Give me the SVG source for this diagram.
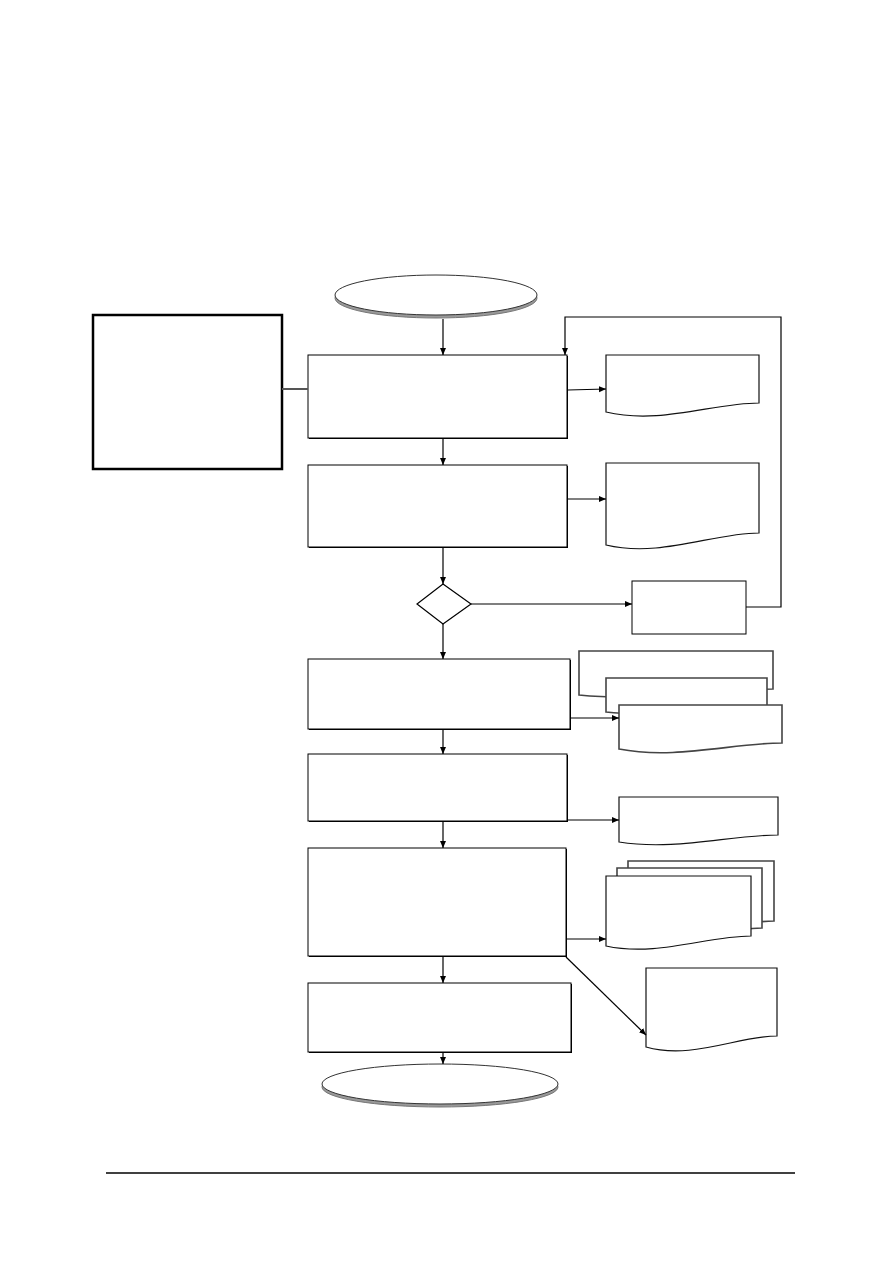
<svg xmlns="http://www.w3.org/2000/svg" width="893" height="1263" viewBox="0 0 893 1263">
<style>
.proc{fill:#fff;stroke:#000;stroke-width:1}
.shadow{fill:#000;stroke:none}
.doc{fill:#fff;stroke:#111;stroke-width:1.2}
.stk{fill:#fff;stroke:#444;stroke-width:1.6}
.term{fill:#fff;stroke:#333;stroke-width:1}
.termsh{fill:#999;stroke:#777;stroke-width:1}
.conn{fill:none;stroke:#000;stroke-width:1.2}
</style>
<defs>
<marker id="ah" markerWidth="8" markerHeight="8" refX="7" refY="4" orient="auto" markerUnits="userSpaceOnUse">
<path d="M0,1 L7,4 L0,7 Z" fill="#000"/>
</marker>
</defs>
<rect width="893" height="1263" fill="#fff"/>

<g id="start">
<ellipse class="termsh" cx="436" cy="298" rx="101" ry="20"/>
<ellipse class="term" cx="436" cy="295" rx="101" ry="20"/>
</g>

<g id="note">
<rect x="93" y="315" width="189" height="154" fill="#fff" stroke="#000" stroke-width="2.5"/>
</g>

<g id="p1">
<rect class="shadow" x="309" y="356" width="259" height="83"/>
<rect class="proc" x="308" y="355" width="259" height="83"/>
</g>
<g id="d1">
<path class="doc" d="M606,355 H759 V403 C713,403 660,425 606,412 Z"/>
</g>

<g id="p2">
<rect class="shadow" x="309" y="466" width="259" height="82"/>
<rect class="proc" x="308" y="465" width="259" height="82"/>
</g>
<g id="d2">
<path class="doc" d="M606,463 H759 V533 C713,533 660,558 606,545 Z"/>
</g>

<g id="decision">
<path d="M443,584 L471,604 L443,624 L417,604 Z" fill="#fff" stroke="#000" stroke-width="1.2"/>
</g>
<g id="p-loop">
<rect x="632" y="581" width="114" height="53" fill="#fff" stroke="#000" stroke-width="1"/>
</g>

<g id="p3">
<rect class="shadow" x="309" y="660" width="262" height="70"/>
<rect class="proc" x="308" y="659" width="262" height="70"/>
</g>
<g id="d3">
<path class="stk" d="M579,651 H773 V689 C715,689 650,702 579,695 Z"/>
<path class="stk" d="M606,678 H767 V706 C720,706 660,718 606,712 Z"/>
<path class="stk" d="M619,705 H782 V743 C733,743 675,760 619,749 Z"/>
</g>

<g id="p4">
<rect class="shadow" x="309" y="755" width="259" height="67"/>
<rect class="proc" x="308" y="754" width="259" height="67"/>
</g>
<g id="d4">
<path class="doc" d="M619,797 H778 V835 C730,835 675,851 619,842 Z"/>
</g>

<g id="p5">
<rect class="shadow" x="309" y="849" width="258" height="108"/>
<rect class="proc" x="308" y="848" width="258" height="108"/>
</g>
<g id="d5">
<path class="stk" d="M628,861 H774 V921 C730,921 680,942 628,931 Z"/>
<path class="stk" d="M617,868 H762 V928 C718,928 668,949 617,938 Z"/>
<path class="doc" d="M606,876 H751 V936 C707,936 657,957 606,946 Z"/>
</g>

<g id="d6">
<path class="doc" d="M646,968 H777 V1036 C738,1036 692,1060 646,1047 Z"/>
</g>

<g id="p6">
<rect class="shadow" x="309" y="984" width="263" height="69"/>
<rect class="proc" x="308" y="983" width="263" height="69"/>
</g>

<g id="end">
<ellipse class="termsh" cx="440" cy="1087" rx="118" ry="20"/>
<ellipse class="term" cx="440" cy="1084" rx="118" ry="20"/>
</g>

<g id="connectors">
<line x1="282" y1="389" x2="308" y2="389" stroke="#555" stroke-width="2"/>
<line class="conn" x1="443" y1="319" x2="443" y2="355" marker-end="url(#ah)"/>
<line class="conn" x1="443" y1="439" x2="443" y2="465" marker-end="url(#ah)"/>
<line class="conn" x1="443" y1="548" x2="443" y2="584" marker-end="url(#ah)"/>
<line class="conn" x1="443" y1="624" x2="443" y2="659" marker-end="url(#ah)"/>
<line class="conn" x1="443" y1="730" x2="443" y2="754" marker-end="url(#ah)"/>
<line class="conn" x1="443" y1="822" x2="443" y2="848" marker-end="url(#ah)"/>
<line class="conn" x1="443" y1="957" x2="443" y2="983" marker-end="url(#ah)"/>
<line class="conn" x1="443" y1="1053" x2="443" y2="1064" marker-end="url(#ah)"/>
<line class="conn" x1="568" y1="390" x2="606" y2="389" marker-end="url(#ah)"/>
<line class="conn" x1="568" y1="499" x2="606" y2="499" marker-end="url(#ah)"/>
<line class="conn" x1="471" y1="604" x2="632" y2="604" marker-end="url(#ah)"/>
<polyline class="conn" points="746,607 781,607 781,317 565,317 565,355" marker-end="url(#ah)"/>
<line class="conn" x1="571" y1="718" x2="619" y2="718" marker-end="url(#ah)"/>
<line class="conn" x1="568" y1="820" x2="619" y2="820" marker-end="url(#ah)"/>
<line class="conn" x1="567" y1="939" x2="606" y2="939" marker-end="url(#ah)"/>
<line class="conn" x1="566" y1="957" x2="646" y2="1035" marker-end="url(#ah)"/>
</g>

<line x1="106" y1="1173" x2="795" y2="1173" stroke="#000" stroke-width="1.3"/>
</svg>
